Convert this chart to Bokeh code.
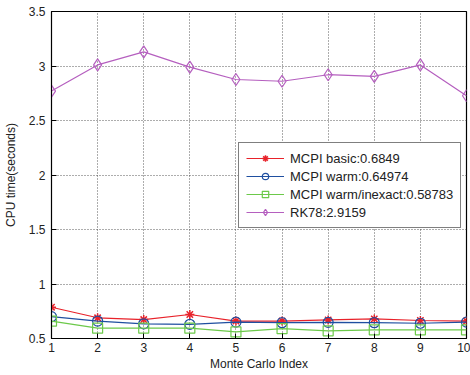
from bokeh.plotting import figure
from bokeh.models import FixedTicker, NumeralTickFormatter, Legend, LegendItem
from bokeh.embed import file_html
from bokeh.resources import INLINE

idx = [1, 2, 3, 4, 5, 6, 7, 8, 9, 10]
mcpi_basic = [0.787, 0.69, 0.674, 0.72, 0.66, 0.66, 0.67, 0.68, 0.665, 0.66]
mcpi_warm = [0.70, 0.66, 0.635, 0.63, 0.65, 0.645, 0.648, 0.645, 0.64, 0.65]
mcpi_inexact = [0.66, 0.595, 0.595, 0.595, 0.56, 0.59, 0.57, 0.58, 0.58, 0.58]
rk78 = [2.77, 3.01, 3.13, 2.99, 2.876, 2.86, 2.92, 2.905, 3.01, 2.727]

labels = ["MCPI basic:0.6849", "MCPI warm:0.64974", "MCPI warm/inexact:0.58783", "RK78:2.9159"]
x_ticks = [1, 2, 3, 4, 5, 6, 7, 8, 9, 10]
y_ticks = [0.5, 1, 1.5, 2, 2.5, 3, 3.5]

FONT = "Liberation Sans"

p = figure(width=470, height=375, output_backend="svg", toolbar_location=None,
           x_range=(1, 10), y_range=(0.5, 3.5),
           min_border_left=49, min_border_right=4, min_border_top=11, min_border_bottom=37)
p.background_fill_color = "white"
p.border_fill_color = "white"
p.outline_line_color = "black"
p.outline_line_width = 1.2

for ax in (p.xaxis[0], p.yaxis[0]):
    ax.axis_line_color = "black"
    ax.major_tick_in = 5
    ax.major_tick_out = 0
    ax.minor_tick_line_color = None
    ax.major_label_text_font = FONT
    ax.major_label_text_font_size = "12px"
    ax.major_label_text_color = "#222222"
    ax.axis_label_text_font = FONT
    ax.axis_label_text_font_size = "12px"
    ax.axis_label_text_font_style = "normal"
    ax.axis_label_text_color = "#222222"

p.xaxis.ticker = FixedTicker(ticks=x_ticks)
p.yaxis.ticker = FixedTicker(ticks=y_ticks)
p.yaxis.formatter = NumeralTickFormatter(format="0.[0]")
p.xaxis.axis_label = "Monte Carlo Index"
p.yaxis.axis_label = "CPU time(seconds)"
p.xaxis.major_label_standoff = 4
p.xaxis.axis_label_standoff = 2
p.yaxis.major_label_standoff = 6
p.yaxis.axis_label_standoff = 8

for g in (p.xgrid[0], p.ygrid[0]):
    g.grid_line_color = "#333333"
    g.grid_line_dash = "1 2"
    g.grid_line_width = 1
    g.grid_line_alpha = 0.8

red = "#e8222a"
blue = "#1f4fa0"
green = "#6cc94a"
purple = "#b55fbf"

l1 = p.line(idx, mcpi_basic, color=red, line_width=1.2)
m1 = p.scatter(idx, mcpi_basic, marker="asterisk", size=9, line_color=red, line_width=1.5)
l2 = p.line(idx, mcpi_warm, color=blue, line_width=1.2)
m2 = p.scatter(idx, mcpi_warm, marker="circle", size=10, line_color=blue, fill_color=None, line_width=1.2)
l3 = p.line(idx, mcpi_inexact, color=green, line_width=1.2)
m3 = p.scatter(idx, mcpi_inexact, marker="square", size=10, line_color=green, fill_color=None, line_width=1.2)
l4 = p.line(idx, rk78, color=purple, line_width=1.2)
m4 = p.scatter(idx, rk78, marker="diamond", size=12, line_color=purple, fill_color=None, line_width=1.2)

legend = Legend(items=[
    LegendItem(label=labels[0], renderers=[l1, m1]),
    LegendItem(label=labels[1], renderers=[l2, m2]),
    LegendItem(label=labels[2], renderers=[l3, m3]),
    LegendItem(label=labels[3], renderers=[l4, m4]),
], location=(187, 110))
legend.border_line_color = "black"
legend.border_line_width = 1
legend.background_fill_alpha = 1
legend.label_text_font = FONT
legend.label_text_font_size = "13px"
legend.label_text_color = "#222222"
legend.glyph_width = 38
legend.glyph_height = 16
legend.label_height = 16
legend.spacing = 2
legend.padding = 7
legend.margin = 0
legend.label_standoff = 6
p.add_layout(legend, "center")

open("out.html", "w").write(file_html(p, INLINE))
